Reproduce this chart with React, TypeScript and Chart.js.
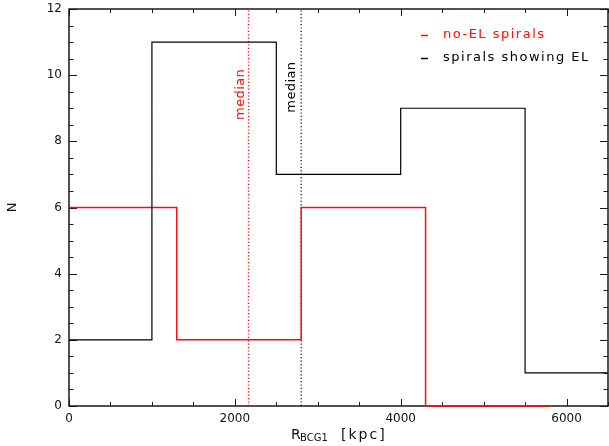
import React, { useEffect, useRef } from "react";
import { Chart, registerables } from "chart.js";

Chart.register(...registerables);

// Histogram bin left edges and counts (last point closes the final bin)
const elEdges = [0, 1000, 2500, 4000, 5500, 6500];
const elCounts = [2, 11, 7, 9, 1, 1];
const noElEdges = [0, 1300, 2800, 4300, 5800];
const noElCounts = [6, 2, 6, 0, 0];
const medianNoEL = 2165;
const medianEL = 2800;
const xTicks = [0, 2000, 4000, 6000];
const yTicks = [0, 2, 4, 6, 8, 10, 12];
const legendLabels = ["no-EL spirals", "spirals showing EL"];
const RED = "#ff0d0d";
const BLACK = "#000000";
const FONT = "'DejaVu Sans', sans-serif";

const decorPlugin = {
  id: "decor",
  beforeDatasetsDraw(chart: any) {
    const { ctx, chartArea: a, scales } = chart;
    const xs = scales.x;
    const ys = scales.y;
    ctx.save();
    ctx.strokeStyle = "#1a1a1a";
    ctx.lineWidth = 1.5;
    ctx.strokeRect(a.left, a.top, a.right - a.left, a.bottom - a.top);
    ctx.lineWidth = 1;
    ctx.beginPath();
    for (let v = 0; v <= 6500; v += 500) {
      const px = Math.round(xs.getPixelForValue(v)) + 0.5;
      const len = v % 2000 === 0 ? 7 : 4;
      ctx.moveTo(px, a.bottom);
      ctx.lineTo(px, a.bottom - len);
      ctx.moveTo(px, a.top);
      ctx.lineTo(px, a.top + len);
    }
    for (let v = 0; v <= 12; v += 0.5) {
      const py = Math.round(ys.getPixelForValue(v)) + 0.5;
      const len = v % 2 === 0 ? 8 : 4.5;
      ctx.moveTo(a.left, py);
      ctx.lineTo(a.left + len, py);
      ctx.moveTo(a.right, py);
      ctx.lineTo(a.right - len, py);
    }
    ctx.stroke();
    ctx.restore();
  },
  afterDraw(chart: any) {
    const { ctx, chartArea: a, scales } = chart;
    const xs = scales.x;
    const ys = scales.y;
    ctx.save();
    // median labels
    const drawRot = (text: string, x: number, y: number, color: string) => {
      ctx.save();
      ctx.translate(x, y);
      ctx.rotate(-Math.PI / 2);
      ctx.fillStyle = color;
      ctx.font = `13px ${FONT}`;
      ctx.textAlign = "center";
      ctx.textBaseline = "middle";
      (ctx as any).letterSpacing = "0.4px";
      ctx.fillText(text, 0, 0);
      ctx.restore();
    };
    drawRot("median", xs.getPixelForValue(medianNoEL) - 8, ys.getPixelForValue(9.42), RED);
    drawRot("median", xs.getPixelForValue(medianEL) - 10, ys.getPixelForValue(9.64), BLACK);

    // legend
    const colors = [RED, BLACK];
    ctx.font = `13px ${FONT}`;
    ctx.textBaseline = "middle";
    ctx.textAlign = "left";
    (ctx as any).letterSpacing = "1.5px";
    legendLabels.forEach((lab, i) => {
      const y = a.top + 26 + i * 23;
      ctx.strokeStyle = colors[i];
      ctx.lineWidth = 1.5;
      ctx.beginPath();
      ctx.moveTo(a.right - 187, y + 0.5);
      ctx.lineTo(a.right - 180, y + 0.5);
      ctx.stroke();
      ctx.fillStyle = colors[i];
      ctx.fillText(lab, a.right - 165, y);
    });

    // axis titles
    (ctx as any).letterSpacing = "0px";
    ctx.fillStyle = "#111";
    ctx.textBaseline = "alphabetic";
    ctx.font = `14px ${FONT}`;
    ctx.fillText("R", 291, 439);
    ctx.font = `10px ${FONT}`;
    ctx.fillText("BCG1", 300, 441);
    ctx.font = `14px ${FONT}`;
    (ctx as any).letterSpacing = "2px";
    ctx.fillText("[kpc]", 341, 439);
    (ctx as any).letterSpacing = "0px";

    ctx.save();
    ctx.translate(13, (a.top + a.bottom) / 2);
    ctx.rotate(-Math.PI / 2);
    ctx.textAlign = "center";
    ctx.textBaseline = "middle";
    ctx.font = `13px ${FONT}`;
    ctx.fillText("N", 0, 0);
    ctx.restore();
    ctx.restore();
  },
};

const zeroPad = (s: any) => {
  s.paddingTop = 0;
  s.paddingBottom = 0;
  s.paddingLeft = 0;
  s.paddingRight = 0;
};

export default function App() {
  const ref = useRef<HTMLCanvasElement>(null);
  useEffect(() => {
    if (!ref.current) return;
    const toPts = (xs: number[], ys: number[]) => xs.map((x, i) => ({ x, y: ys[i] }));
    const chart = new Chart(ref.current, {
      type: "line",
      data: {
        datasets: [
          {
            label: legendLabels[1],
            data: toPts(elEdges, elCounts),
            borderColor: BLACK,
            borderWidth: 1.2,
            stepped: true,
            pointRadius: 0,
            fill: false,
            clip: false,
          } as any,
          {
            label: legendLabels[0],
            data: toPts(noElEdges, noElCounts),
            borderColor: RED,
            borderWidth: 1.5,
            stepped: true,
            pointRadius: 0,
            fill: false,
            clip: false,
          } as any,
          {
            label: "median no-EL",
            data: [
              { x: medianNoEL, y: 0 },
              { x: medianNoEL, y: 12 },
            ],
            borderColor: RED,
            borderWidth: 1.4,
            borderDash: [1.2, 2.2],
            pointRadius: 0,
            fill: false,
          } as any,
          {
            label: "median EL",
            data: [
              { x: medianEL, y: 0 },
              { x: medianEL, y: 12 },
            ],
            borderColor: BLACK,
            borderWidth: 1.2,
            borderDash: [1.2, 2.2],
            pointRadius: 0,
            fill: false,
          } as any,
        ],
      },
      options: {
        responsive: false,
        animation: false,
        layout: { padding: { top: 9, right: 1, left: 0, bottom: 0 } },
        plugins: { legend: { display: false }, tooltip: { enabled: false } },
        scales: {
          x: {
            type: "linear",
            min: 0,
            max: 6500,
            afterFit: (s: any) => {
              s.height = 40;
              zeroPad(s);
            },
            afterBuildTicks: (s: any) => {
              s.ticks = xTicks.map((v) => ({ value: v }));
            },
            ticks: {
              padding: 6,
              color: "#111",
              font: { family: FONT, size: 12 },
              maxRotation: 0,
              autoSkip: false,
              callback: (v: any) => String(v),
            },
            grid: { display: false, drawTicks: false },
            border: { display: false },
          },
          y: {
            type: "linear",
            min: 0,
            max: 12,
            afterFit: (s: any) => {
              s.width = 69;
              zeroPad(s);
            },
            afterBuildTicks: (s: any) => {
              s.ticks = yTicks.map((v) => ({ value: v }));
            },
            ticks: {
              padding: 7,
              color: "#111",
              font: { family: FONT, size: 12 },
              autoSkip: false,
              callback: (v: any) => String(v),
            },
            grid: { display: false, drawTicks: false },
            border: { display: false },
          },
        },
      } as any,
      plugins: [decorPlugin],
    });
    return () => chart.destroy();
  }, []);
  return (
    <canvas
      ref={ref}
      width={609}
      height={446}
      style={{ position: "absolute", left: 0, top: 0, width: 609, height: 446 }}
    />
  );
}
